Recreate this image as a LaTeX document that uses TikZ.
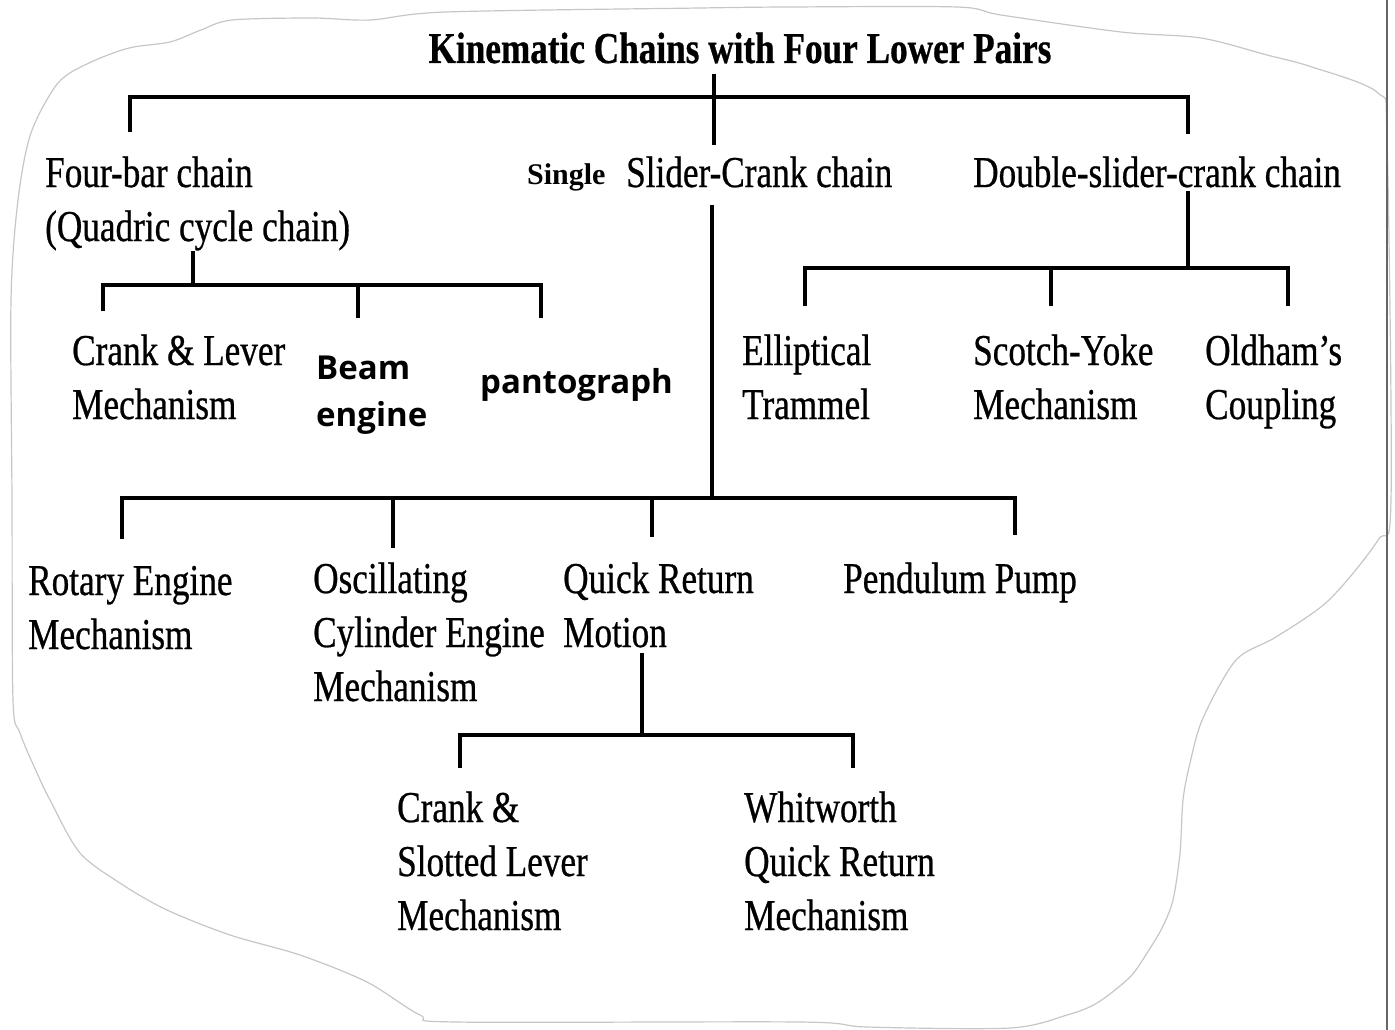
\documentclass[tikz,border=0pt]{standalone}
\usepackage{fontspec}
\setmainfont{Liberation Serif}
\newfontfamily\scanfont[FakeStretch=0.8, FakeBold=0.6]{Liberation Serif}
\newfontfamily\addfont{Open Sans}
\usetikzlibrary{calc}
\tikzset{
  lbl/.style={anchor=base west, align=left, inner sep=0pt, font=\scanfont\fontsize{44}{54}\selectfont},
  addlbl/.style={anchor=base west, align=left, inner sep=0pt, font=\addfont\bfseries\fontsize{33}{47}\selectfont},
  branch/.style={line width=3.5pt, line join=miter},
  outline/.style={gray!45, line width=1.2pt},
}

\begin{document}
\begin{tikzpicture}[x=1pt, y=-1pt]
\useasboundingbox (0,0) rectangle (1395,1030);

% Outline
\draw[outline] plot[smooth cycle, tension=0.5] coordinates {
  (11,300) (18,200) (31,133) (58,83) (89,63) (129,48) (170,42) (201,30)
  (232,20) (312,18) (370,20) (446,12) (700,8) (789,7) (957,7) (1001,15)
  (1121,32) (1201,38) (1267,55) (1312,67) (1378,93) (1387,140) (1391,500)
  (1378,540) (1329,600) (1276,637) (1236,660) (1203,718) (1190,763)
  (1183,800) (1180,853) (1173,900) (1162,928) (1147,953) (1130,977)
  (1097,1003) (1067,1015) (1010,1028) (867,1027) (800,1022) (456,1022)
  (420,1015) (367,982) (300,955) (230,935) (167,910) (123,885) (80,853)
  (50,800) (37,773) (20,733) (13,700) (12,500)};
\draw[black!60, line width=2pt] (1387,0) -- (1387,1030);

% Title and first level (multi-line labels sit on their last baseline)
\node[lbl, anchor=base, font=\scanfont\bfseries\fontsize{44}{54}\selectfont] (title) at (740,63)
  {Kinematic Chains with Four Lower Pairs};
\node[lbl] (fourbar) at (45,241) {Four-bar chain\\(Quadric cycle chain)};
\node[lbl, font=\bfseries\fontsize{30}{36}\selectfont] (single) at (527,184) {Single};
\node[lbl] (slider) at (626,187) {Slider-Crank chain};
\node[lbl] (dslider) at (973,187) {Double-slider-crank chain};

% Four-bar chain
\node[lbl] (crank) at (72,419) {Crank \& Lever\\Mechanism};
\node[addlbl] (beam) at (316,426) {Beam\\engine};
\node[addlbl] (panto) at (480,393) {pantograph};

% Double-slider-crank chain
\node[lbl] (ellip) at (742,419) {Elliptical\\Trammel};
\node[lbl] (scotch) at (973,419) {Scotch-Yoke\\Mechanism};
\node[lbl] (oldham) at (1205,419) {Oldham’s\\Coupling};

% Single slider-crank chain
\node[lbl] (rotary) at (28,649) {Rotary Engine\\Mechanism};
\node[lbl] (oscil) at (313,701) {Oscillating\\Cylinder Engine\\Mechanism};
\node[lbl] (quick) at (563,647) {Quick Return\\Motion};
\node[lbl] (pendulum) at (843,593) {Pendulum Pump};

% Quick return motion
\node[lbl] (slotted) at (397,930) {Crank \&\\Slotted Lever\\Mechanism};
\node[lbl] (whit) at (744,930) {Whitworth\\Quick Return\\Mechanism};

% Brackets
\coordinate (topL) at (130,97);
\coordinate (topM) at (714,97);
\coordinate (topR) at (1188,97);
\draw[branch, shorten <=24pt, shorten >=22pt] (topL |- fourbar.north) -- (topL) -- (topR) -- (topR |- dslider.north);
\draw[branch, shorten <=10pt, shorten >=11pt] (title.south -| topM) -- (topM |- slider.north);

\coordinate (fbM) at (193,285);
\coordinate (fbL) at (103,285);
\coordinate (fbC) at (358,285);
\coordinate (fbR) at (541,285);
\draw[branch] (fourbar.south -| fbM) -- (fbM);
\draw[branch, shorten <=23pt, shorten >=50pt] (fbL |- crank.north) -- (fbL) -- (fbR) -- (fbR |- panto.north);
\draw[branch, shorten >=37pt] (fbC) -- (fbC |- beam.north);

\coordinate (dsM) at (1188,268);
\coordinate (dsL) at (805,268);
\coordinate (dsC) at (1051,268);
\coordinate (dsR) at (1288,268);
\draw[branch, shorten <=3pt] (dslider.south -| dsM) -- (dsM);
\draw[branch, shorten <=28pt, shorten >=28pt] (dsL |- ellip.north) -- (dsL) -- (dsR) -- (dsR |- oldham.north);
\draw[branch, shorten >=28pt] (dsC) -- (dsC |- scotch.north);

\coordinate (scM) at (712,498);
\coordinate (scA) at (122,498);
\coordinate (scB) at (393,498);
\coordinate (scC) at (652,498);
\coordinate (scD) at (1015,498);
\draw[branch, shorten <=17pt] (slider.south -| scM) -- (scM);
\draw[branch, shorten <=27pt, shorten >=27pt] (scA |- rotary.north) -- (scA) -- (scD) -- (scD |- pendulum.north);
\draw[branch, shorten >=14pt] (scB) -- (scB |- oscil.north);
\draw[branch, shorten >=25pt] (scC) -- (scC |- quick.north);

\coordinate (qrM) at (642,735);
\coordinate (qrL) at (460,735);
\coordinate (qrR) at (853,735);
\draw[branch, shorten <=5pt] (quick.south -| qrM) -- (qrM);
\draw[branch, shorten <=23pt, shorten >=23pt] (qrL |- slotted.north) -- (qrL) -- (qrR) -- (qrR |- whit.north);

\end{tikzpicture}
\end{document}
